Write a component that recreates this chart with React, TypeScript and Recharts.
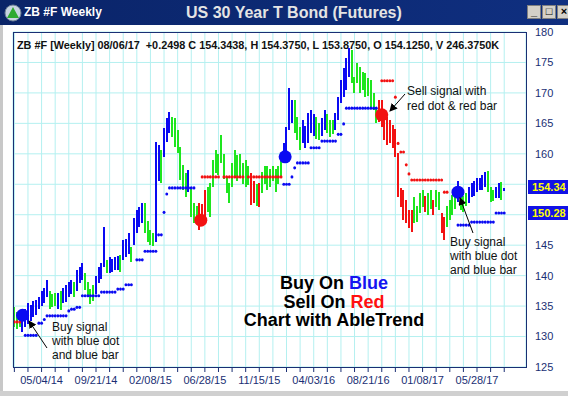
import { ComposedChart, Bar, Cell, Scatter, XAxis, YAxis, CartesianGrid } from "recharts";

// weekly bars, index 0 = 02/23/14 ... index 180 = 08/06/17
const highs = [
  134.8, 134.0, 133.5, 134.3, 134.5, 135.5, 135.2, 135.8, 136.0, 136.5,
  137.5, 138.0, 139.3, 137.5, 137.0, 137.2, 137.2, 137.5, 138.0, 138.5,
  139.0, 139.3, 139.0, 141.0, 141.4, 142.1, 140.5, 139.0, 137.8, 138.5,
  140.0, 141.4, 142.0, 148.0, 142.6, 143.0, 142.8, 143.0, 143.2, 143.4,
  145.8, 146.0, 147.0, 144.7, 149.5, 150.8, 151.3, 152.0, 152.0, 149.0,
  147.5, 147.0, 162.0, 161.5, 160.6, 164.2, 165.9, 166.9, 166.0, 165.9,
  163.9, 161.1, 158.2, 156.8, 157.3, 154.5, 152.0, 151.5, 152.0, 151.8,
  154.0, 154.5, 155.2, 159.0, 160.6, 160.0, 163.1, 160.0, 156.2, 155.2,
  158.5, 160.6, 159.8, 160.0, 158.5, 159.0, 158.0, 156.8, 155.5, 155.0,
  155.2, 157.0, 158.0, 158.0, 157.5, 158.0, 157.5, 158.0, 159.5, 161.8,
  164.4, 170.8, 168.8, 168.8, 166.0, 164.4, 165.5, 164.5, 166.7, 167.2,
  166.5, 166.0, 165.0, 165.8, 167.2, 166.5, 165.5, 165.5, 166.7, 169.3,
  172.1, 174.1, 175.7, 177.4, 177.0, 172.6, 174.9, 174.3, 173.5, 173.3,
  172.5, 172.1, 170.0, 167.7, 168.8, 168.8, 167.2, 166.0, 165.5, 164.7,
  164.0, 160.1, 154.4, 154.0, 152.4, 150.8, 150.8, 152.9, 151.5, 153.6,
  154.1, 153.0, 153.5, 154.0, 152.4, 154.0, 153.8, 150.3, 149.6, 151.5,
  152.4, 153.2, 153.5, 155.5, 153.6, 153.0, 153.6, 154.6, 155.2, 155.5,
  156.0, 156.0, 156.5, 157.0, 157.2, 154.5, 154.0, 154.6, 155.2, 155.4,
  154.375,
];

const lows = [
  131.5, 131.2, 131.5, 130.8, 131.5, 132.0, 132.5, 133.2, 133.5, 134.5,
  135.0, 135.5, 136.5, 134.5, 134.8, 135.0, 134.5, 134.4, 135.5, 135.7,
  136.5, 137.0, 136.5, 137.5, 138.8, 139.3, 137.6, 136.8, 135.3, 135.8,
  137.0, 138.8, 139.5, 141.4, 140.4, 140.5, 140.6, 140.9, 141.0, 140.6,
  142.6, 143.0, 143.5, 142.2, 145.0, 147.0, 148.0, 148.6, 147.0, 145.5,
  145.0, 144.8, 145.5, 155.5, 155.2, 159.5, 162.0, 163.4, 162.8, 161.1,
  160.1, 155.7, 154.0, 152.9, 153.7, 149.6, 148.6, 148.8, 147.5, 148.5,
  149.6, 150.5, 149.6, 154.5, 156.8, 156.5, 158.5, 155.8, 153.6, 151.9,
  154.5, 156.2, 155.5, 156.2, 155.0, 154.5, 154.8, 151.6, 152.0, 151.5,
  151.3, 153.5, 155.0, 154.0, 154.5, 155.5, 153.8, 155.0, 156.2, 159.0,
  160.1, 163.9, 165.1, 163.4, 162.3, 160.6, 161.8, 161.0, 161.8, 163.4,
  163.0, 162.5, 162.3, 163.0, 163.9, 163.4, 162.8, 163.2, 163.9, 165.5,
  168.3, 169.3, 170.5, 172.6, 171.6, 170.0, 171.6, 170.0, 170.5, 169.3,
  169.5, 167.7, 167.2, 165.0, 165.3, 164.4, 162.3, 161.4, 161.8, 161.0,
  159.5, 152.9, 151.3, 149.1, 148.6, 147.8, 147.2, 148.6, 148.8, 150.3,
  151.3, 150.5, 150.0, 151.0, 150.0, 151.2, 150.8, 147.0, 145.8, 148.0,
  149.1, 150.0, 151.0, 152.1, 150.8, 150.5, 151.5, 151.9, 152.9, 153.0,
  153.8, 154.0, 154.0, 154.5, 153.7, 152.1, 152.3, 152.7, 152.7, 152.4,
  153.875,
];

// b = blue (up), g = green (neutral), r = red (down)
const barColors = (
  "ggg bbbbbbbbbb ggg b g bbbb g bbb gggg bbbb g bbbb g bbb g bbbb gggg bb g bbb gggggg b ggg " +
  "rrr gggggggggggggggg rr g r gggggggg bbbb ggg bbbbb gg bb ggg bbbbbb gggggggggg " +
  "rrrrrrrrrrrrr gggg r gg r gg rr gggg b ggg bbbbbbb ggg bb g b"
).replace(/ /g, "");

// trailing stop dots: [fromWeek, toWeek, price]
const blueStopRuns = [
  [4, 8, 130.2], [9, 10, 132.2], [11, 11, 132.8], [12, 19, 133.4], [20, 20, 134.2],
  [21, 22, 134.5], [23, 24, 134.8], [25, 31, 136.7], [32, 37, 137.3], [38, 40, 137.8],
  [41, 43, 138.5], [45, 47, 142.6], [48, 52, 144.0], [53, 54, 146.7], [55, 55, 150.4],
  [56, 56, 153.4], [57, 66, 154.4],
  [99, 101, 155.0], [102, 102, 156.2], [103, 103, 157.7], [104, 108, 158.5],
  [109, 112, 161.0], [113, 118, 162.1], [119, 120, 163.2], [121, 121, 164.9], [122, 133, 167.5],
  [163, 167, 148.3], [168, 176, 148.8], [177, 180, 150.28],
];
const redStopRuns = [
  [0, 2, 132.4],
  [69, 75, 156.2], [77, 84, 156.2], [86, 98, 156.2],
  [135, 139, 172.0], [140, 140, 169.3], [141, 141, 161.7], [142, 143, 160.3],
  [144, 144, 158.2], [145, 145, 156.7], [146, 157, 155.7], [158, 159, 153.7],
];

// big signal dots
const buySignals = [
  { i: 3, v: 133.5 },
  { i: 99.5, v: 159.5 },
  { i: 163, v: 153.7 },
];
const sellSignals = [
  { i: 68.5, v: 149.1 },
  { i: 135, v: 166.4 },
];

const yTicks = [125, 130, 135, 140, 145, 150, 155, 160, 165, 170, 175, 180];
// 150 and 155 sit under the price boxes on the axis
const hiddenYLabels = [150, 155];
const xTicks = [
  0, 5, 10, 15, 20, 25, 30, 35, 40, 45, 50, 55, 60, 65, 70, 75, 80, 85, 90,
  95, 100, 105, 110, 115, 120, 125, 130, 135, 140, 145, 150, 155, 160, 165, 170, 175, 180,
];
const dateLabels: Record<number, string> = {
  10: "05/04/14", 30: "09/21/14", 50: "02/08/15", 70: "06/28/15", 90: "11/15/15",
  110: "04/03/16", 130: "08/21/16", 150: "01/08/17", 170: "05/28/17",
};

const COLORS: Record<string, string> = { b: "#0a0af2", g: "#1ee61e", r: "#f21212" };
const NAVY = "#1a2f74";
const FONT = "Arial, 'Liberation Sans', sans-serif";

const rows = highs.map((h, i) => ({ i, range: [lows[i], h], c: barColors[i] }));

function expand(runs: number[][]) {
  const out: { i: number; v: number }[] = [];
  runs.forEach(([a, b, v]) => {
    for (let i = a; i <= b; i++) out.push({ i, v });
  });
  return out;
}
const blueStops = expand(blueStopRuns);
const redStops = expand(redStopRuns);

const stopDot = (color: string) => (p: any) => (
  <ellipse cx={p.cx} cy={p.cy} rx={1.45} ry={1.6} fill={color} />
);
const bigDot = (color: string) => (p: any) => (
  <circle cx={p.cx} cy={p.cy} r={6.5} fill={color} />
);
const hlBar = (p: any) => (
  <rect
    x={Math.round(p.x + p.width / 2) - 1}
    y={p.y}
    width={2}
    height={Math.max(p.height, 1)}
    fill={p.fill}
    shapeRendering="crispEdges"
  />
);

const noteStyle: React.CSSProperties = {
  position: "absolute",
  fontFamily: FONT,
  fontSize: 12,
  color: "#111",
  whiteSpace: "pre",
};

export default function App() {
  return (
    <div
      style={{
        position: "absolute",
        left: 0,
        top: 0,
        width: 568,
        height: 396,
        background: "#fff",
        overflow: "hidden",
        fontFamily: FONT,
      }}
    >
      {/* title bar */}
      <div
        style={{
          position: "absolute",
          left: 0,
          top: 0,
          width: 568,
          height: 25,
          background: "linear-gradient(to right, #0a2468, #0f2f80)",
        }}
      >
        <svg width={18} height={18} style={{ position: "absolute", left: 4, top: 4 }}>
          <circle cx={9} cy={9} r={8} fill="#c8d4e0" stroke="#6d7f95" />
          <polygon points="9,3 15,14 3,14" fill="#2faa2f" />
        </svg>
        <div style={{ position: "absolute", left: 24, top: 5, fontSize: 12, fontWeight: "bold", color: "#fff" }}>
          ZB #F Weekly
        </div>
        <div style={{ position: "absolute", left: 186, top: 4, fontSize: 16, fontWeight: "bold", color: "#e4e4e4" }}>
          US 30 Year T Bond (Futures)
        </div>
        {["_", "□", "×"].map((g, k) => (
          <div
            key={k}
            style={{
              position: "absolute",
              left: 527 + k * 15,
              top: 5,
              width: 14,
              height: 14,
              background: "#d4d0c8",
              border: "1px solid #808080",
              boxSizing: "border-box",
              fontSize: 11,
              fontWeight: "bold",
              lineHeight: "11px",
              textAlign: "center",
              color: "#000",
            }}
          >
            {g}
          </div>
        ))}
      </div>

      {/* window frame */}
      <div style={{ position: "absolute", left: 0, top: 25, width: 3, height: 371, background: "#c8c8c8" }} />
      <div style={{ position: "absolute", left: 0, top: 391, width: 568, height: 5, background: "#d0d0d0" }} />

      <div style={{ position: "absolute", left: 0, top: 0 }}>
        <ComposedChart
          width={568}
          height={396}
          data={rows}
          margin={{ top: 32, right: 0, bottom: 0, left: 13 }}
        >
          <CartesianGrid stroke="#b4f0f0" strokeWidth={1} />
          <XAxis
            dataKey="i"
            type="number"
            domain={[-0.5, 188]}
            allowDataOverflow
            ticks={xTicks}
            interval={0}
            tickFormatter={(v) => dateLabels[v] ?? ""}
            axisLine={false}
            tickLine={{ stroke: NAVY }}
            tickSize={5}
            tickMargin={4}
            height={29}
            tick={{ fontSize: 11, fill: NAVY, fontFamily: FONT }}
          />
          <YAxis
            orientation="right"
            type="number"
            domain={[125, 180]}
            allowDataOverflow
            ticks={yTicks}
            interval={0}
            tickFormatter={(v) => (hiddenYLabels.includes(v) ? "" : String(v))}
            axisLine={false}
            tickLine={false}
            tickSize={6}
            tickMargin={3}
            width={42}
            tick={{ fontSize: 11, fill: NAVY, fontFamily: FONT, textAnchor: "start" }}
          />
          <Bar dataKey="range" barSize={2} shape={hlBar} isAnimationActive={false}>
            {rows.map((r) => (
              <Cell key={r.i} fill={COLORS[r.c]} />
            ))}
          </Bar>
          <Scatter data={blueStops} dataKey="v" shape={stopDot(COLORS.b)} isAnimationActive={false} />
          <Scatter data={redStops} dataKey="v" shape={stopDot(COLORS.r)} isAnimationActive={false} />
          <Scatter data={buySignals} dataKey="v" shape={bigDot(COLORS.b)} isAnimationActive={false} />
          <Scatter data={sellSignals} dataKey="v" shape={bigDot(COLORS.r)} isAnimationActive={false} />
        </ComposedChart>
      </div>

      {/* plot frame */}
      <div
        style={{
          position: "absolute",
          left: 13,
          top: 32,
          width: 514,
          height: 336,
          border: `1px solid ${NAVY}`,
          boxSizing: "border-box",
          pointerEvents: "none",
        }}
      />

      <div style={{ position: "absolute", left: 17, top: 39, fontSize: 10.85, fontWeight: "bold", color: "#111", whiteSpace: "pre" }}>
        ZB #F [Weekly] 08/06/17  +0.2498 C 154.3438, H 154.3750, L 153.8750, O 154.1250, V 246.3750K
      </div>

      {/* last price / stop labels */}
      {[
        { t: "154.34", top: 180 },
        { t: "150.28", top: 206 },
      ].map((b) => (
        <div
          key={b.t}
          style={{
            position: "absolute",
            left: 528,
            top: b.top,
            width: 40,
            height: 14,
            background: "#1212e6",
            color: "#ffff00",
            fontSize: 11,
            fontWeight: "bold",
            lineHeight: "14px",
            paddingLeft: 4,
            boxSizing: "border-box",
          }}
        >
          {b.t}
        </div>
      ))}

      {/* annotations */}
      <div style={{ ...noteStyle, left: 52, top: 320, lineHeight: "14px" }}>
        {"Buy signal\nwith blue dot\nand blue bar"}
      </div>
      <div style={{ ...noteStyle, left: 407, top: 84, lineHeight: "15px" }}>
        {"Sell signal with\nred dot & red bar"}
      </div>
      <div style={{ ...noteStyle, left: 450, top: 235, lineHeight: "14px" }}>
        {"Buy signal\nwith blue dot\nand blue bar"}
      </div>
      <div
        style={{
          position: "absolute",
          left: 214,
          width: 240,
          top: 274,
          textAlign: "center",
          fontSize: 18,
          fontWeight: "bold",
          lineHeight: "18.5px",
          color: "#000",
        }}
      >
        <div>
          Buy On <span style={{ color: "#1414f0" }}>Blue</span>
        </div>
        <div>
          Sell On <span style={{ color: "#ff1010" }}>Red</span>
        </div>
        <div>Chart with AbleTrend</div>
      </div>

      <svg width={568} height={396} style={{ position: "absolute", left: 0, top: 0, pointerEvents: "none" }}>
        <defs>
          <marker id="ah" markerWidth={8} markerHeight={8} refX={7} refY={4} orient="auto" markerUnits="userSpaceOnUse">
            <polygon points="0,0 8,4 0,8" fill="#000" />
          </marker>
        </defs>
        <line x1={47} y1={348} x2={29} y2={321} stroke="#000" strokeWidth={1} markerEnd="url(#ah)" />
        <line x1={405} y1={94} x2={390} y2={111} stroke="#000" strokeWidth={1} markerEnd="url(#ah)" />
        <line x1={473} y1={233} x2={460} y2={198} stroke="#000" strokeWidth={1} markerEnd="url(#ah)" />
      </svg>
    </div>
  );
}
